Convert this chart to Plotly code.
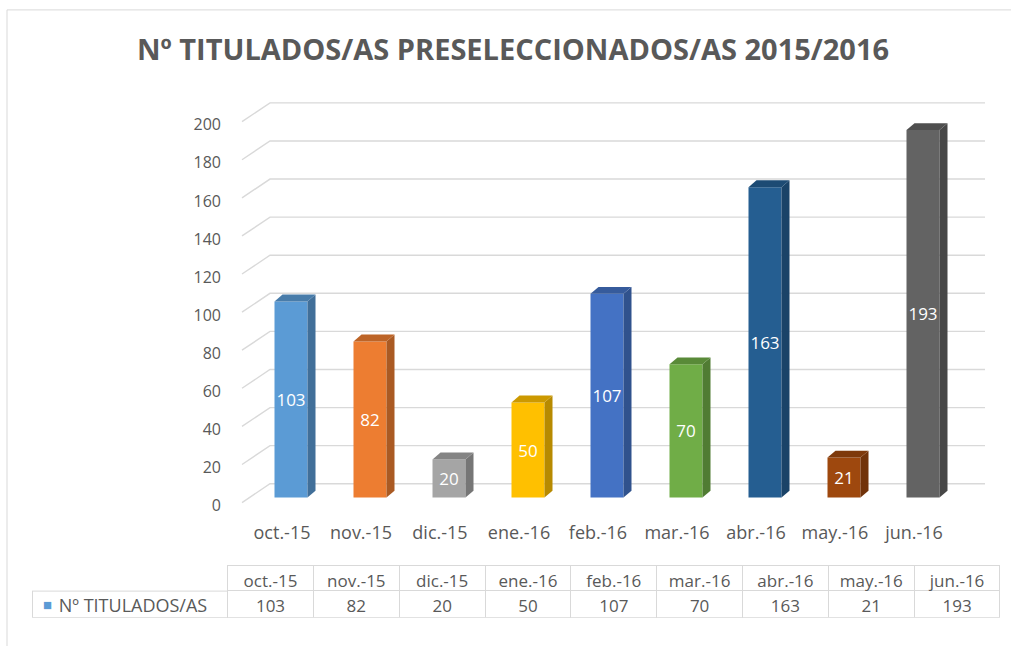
import plotly.graph_objects as go

months = ["oct.-15", "nov.-15", "dic.-15", "ene.-16", "feb.-16", "mar.-16", "abr.-16", "may.-16", "jun.-16"]
values = [103, 82, 20, 50, 107, 70, 163, 21, 193]
colors = ["#5B9BD5", "#ED7D31", "#A5A5A5", "#FFC000", "#4472C4", "#70AD47", "#255E91", "#9E480E", "#636363"]
series_name = "Nº TITULADOS/AS"
title = "Nº TITULADOS/AS PRESELECCIONADOS/AS 2015/2016"
yticks = list(range(0, 201, 20))

W, H = 1011, 653
FONT = "Open Sans"
GRAY = "#595959"
GRID = "#d9d9d9"


def shade(hexc, f):
    r, g, b = int(hexc[1:3], 16), int(hexc[3:5], 16), int(hexc[5:7], 16)
    return "#%02x%02x%02x" % (int(r * f), int(g * f), int(b * f))


# plot area geometry (pixels)
px_left, px_right = 238, 990
px_top, px_bottom = 95, 515
x0_center, x_step = 291, 79
y_zero, px_per_unit = 503, 1.925

xr = [-(x0_center - px_left) / x_step, (px_right - x0_center) / x_step]
yr = [-(px_bottom - y_zero) / px_per_unit, (y_zero - px_top) / px_per_unit]

bw = 33 / x_step
dx = 8 / x_step
dy = 7 / px_per_unit

# 3D wall gridlines: front edge -> back wall -> right end
g_front_x = (242 - x0_center) / x_step
g_back_x = (270 - x0_center) / x_step
g_right_x = (985 - x0_center) / x_step
g_front_off = -5 / px_per_unit
g_back_off = 14 / px_per_unit

fig = go.Figure()

gx, gy = [], []
for v in yticks:
    gx += [g_front_x, g_back_x, g_right_x, None]
    gy += [v + g_front_off, v + g_back_off, v + g_back_off, None]
fig.add_trace(go.Scatter(x=gx, y=gy, mode="lines", line=dict(color=GRID, width=1.4),
                         hoverinfo="skip", showlegend=False))

idx = list(range(len(months)))

# columns on an overlay axis so they sit above the wall gridlines
fig.add_trace(go.Bar(
    x=idx, y=values, width=bw, yaxis="y2", marker=dict(color=colors, line=dict(width=0)),
    text=[str(v) for v in values], textposition="inside", insidetextanchor="middle",
    textangle=0, textfont=dict(color="white", size=17, family=FONT), constraintext="none",
    name=series_name, showlegend=False, cliponaxis=False))

# 3D side & top faces
for i, (v, c) in enumerate(zip(values, colors)):
    xl, xrt = i - bw / 2, i + bw / 2
    fig.add_trace(go.Scatter(
        x=[xrt, xrt + dx, xrt + dx, xrt, xrt], y=[0, dy, v + dy, v, 0], yaxis="y2",
        fill="toself", fillcolor=shade(c, 0.72), mode="lines", line=dict(width=0),
        hoverinfo="skip", showlegend=False))
    fig.add_trace(go.Scatter(
        x=[xl, xrt, xrt + dx, xl + dx, xl], y=[v, v, v + dy, v + dy, v], yaxis="y2",
        fill="toself", fillcolor=shade(c, 0.80), mode="lines", line=dict(width=0),
        hoverinfo="skip", showlegend=False))

# data table
col_w = [196] + [86] * len(months)
header_vals = [""] + months
legend_cell = "\u00a0\u00a0\u00a0\u00a0" + series_name.replace(" ", "\u00a0")
cell_vals = [[legend_cell]] + [[str(v)] for v in values]
fig.add_trace(go.Table(
    domain=dict(x=[32 / W, 1000 / W], y=[(H - 625) / H, (H - 572) / H]),
    columnwidth=col_w,
    header=dict(values=header_vals, fill_color="white", height=25,
                line=dict(color=["white"] + [GRID] * len(months), width=1),
                font=dict(family=FONT, size=17, color=GRAY), align="center"),
    cells=dict(values=cell_vals, fill_color="white", height=27,
               line=dict(color=GRID, width=1),
               font=dict(family=FONT, size=[18] + [17] * len(months), color=GRAY),
               align=["left"] + ["center"] * len(months))))

fig.update_layout(
    width=W, height=H, margin=dict(l=0, r=0, t=0, b=0),
    paper_bgcolor="white", plot_bgcolor="white",
    title=dict(text=f"<b>{title}</b>", x=513 / W, xanchor="center", y=1 - 50 / H, yanchor="middle",
               yref="container", font=dict(family=FONT, size=29, color=GRAY)),
    xaxis=dict(domain=[px_left / W, px_right / W], range=xr, tickvals=idx, ticktext=months,
               showgrid=False, zeroline=False, showline=False, ticks="",
               ticklabelshift=-9, ticklabelstandoff=11,
               tickfont=dict(family=FONT, size=18, color=GRAY), fixedrange=True),
    yaxis=dict(domain=[(H - px_bottom) / H, (H - px_top) / H], range=yr, tickvals=yticks,
               showgrid=False, zeroline=False, showline=False, ticks="",
               ticklabelstandoff=16, ticklabelshift=8,
               tickfont=dict(family=FONT, size=16, color=GRAY)),
    yaxis2=dict(overlaying="y", range=yr, showticklabels=False, showgrid=False,
                zeroline=False, showline=False, ticks=""),
    annotations=[dict(text="■", xref="paper", yref="paper", x=47 / W, y=1 - 611 / H,
                      xanchor="center", yanchor="middle", showarrow=False,
                      font=dict(family=FONT, size=15, color="#5B9BD5"))],
    shapes=[
        # chart-area border (left and top edges; right/bottom fall outside the crop)
        dict(type="line", xref="paper", yref="paper", x0=7 / W, x1=7 / W, y0=0, y1=1 - 10 / H,
             line=dict(color=GRID, width=1)),
        dict(type="line", xref="paper", yref="paper", x0=7 / W, x1=1, y0=1 - 10 / H, y1=1 - 10 / H,
             line=dict(color=GRID, width=1)),
        dict(type="line", xref="paper", yref="paper", x0=32 / W, x1=228 / W,
             y0=1 - 597.5 / H, y1=1 - 597.5 / H, line=dict(color=GRID, width=1), layer="above"),
    ],
)

fig.write_html("out.html", config={"displayModeBar": False},
               post_script="document.body.style.margin='0';")
